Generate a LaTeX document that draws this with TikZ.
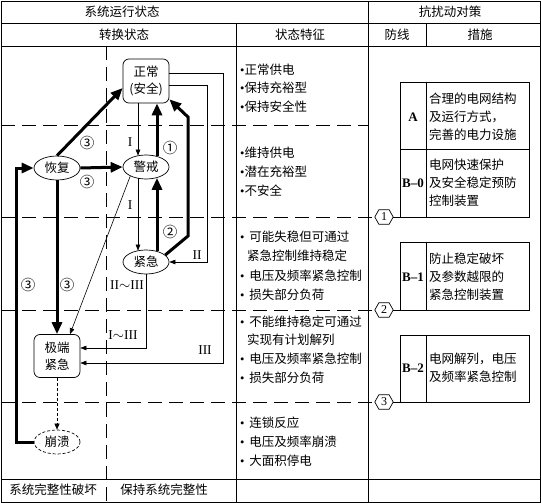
\documentclass[tikz,border=0pt]{standalone}
\usepackage{fontspec}
\setmainfont{Noto Sans CJK SC}
\newfontfamily\ser{Liberation Serif}
\usetikzlibrary{shapes.geometric,arrows.meta,calc}
\newcommand\mybul{{\ser •}}
\begin{document}
\begin{tikzpicture}[x=1pt,y=-1pt,
  font=\fontsize{12.5}{15}\selectfont,
  tl/.style={line width=0.7pt},
  dl/.style={line width=0.7pt, dash pattern=on 14pt off 7pt},
  thinarr/.style={line width=0.6pt, -{Triangle[length=6pt,width=4.5pt]}},
  thickarr/.style={line width=3pt, -{Triangle[length=12pt,width=10pt]}},
  ell/.style={ellipse, draw, line width=0.7pt, minimum width=46pt, minimum height=24pt, inner sep=0pt},
  rbox/.style={draw, line width=0.7pt, rounded corners=6pt, minimum width=46pt, minimum height=44pt, align=center, inner sep=0pt, font=\fontsize{12.5}{17}\selectfont},
  hexn/.style={minimum width=18pt, minimum height=14pt, inner sep=0pt, font=\ser\fontsize{12}{12}\selectfont},
  lab/.style={inner sep=0pt},
  cn/.style={inner sep=0pt, font=\fontsize{14.5}{15}\selectfont},
  rn/.style={inner sep=0pt, font=\ser\fontsize{13.5}{14}\selectfont},
  ft/.style={anchor=west, inner sep=0pt},
  bt/.style={anchor=west, align=left, inner sep=0pt, font=\fontsize{12.5}{18}\selectfont},
  bl/.style={inner sep=0pt, font=\ser\bfseries\fontsize{13}{14}\selectfont}
]
\useasboundingbox (0,0) rectangle (541,503);
% table frame
\draw[tl] (1,1) rectangle (540,502);
\draw[tl] (1,23) -- (540,23);
\draw[tl] (1,46) -- (540,46);
\draw[tl] (1,479) -- (540,479);
\draw[tl] (236,23) -- (236,502);
\draw[tl] (368,1) -- (368,502);
\draw[tl] (426,23) -- (426,46);
\draw[dl] (106,46) -- (106,502);
% headers
\node[lab] (t1) at (122,12) {系统运行状态};
\node[lab] (t2) at (450,12) {抗扰动对策};
\node[lab] (t3) at (124,35) {转换状态};
\node[lab] (t4) at (300,35) {状态特征};
\node[lab] (t5) at (397,35) {防线};
\node[lab] (t6) at (480,35) {措施};
% hexagons
\node[hexn] (h1) at (384,217) {1};
\node[hexn] (h2) at (384,310) {2};
\node[hexn] (h3) at (384,402) {3};
\foreach \h in {h1,h2,h3}{
  \draw[tl] (\h.west) -- ([xshift=4pt]\h.north west) -- ([xshift=-4pt]\h.north east) -- (\h.east) -- ([xshift=-4pt]\h.south east) -- ([xshift=4pt]\h.south west) -- cycle;
}
\draw[dl] (1,125) -- (368,125);
\draw[dl] (1,217) -- (h1.west);
\draw[dl] (1,310) -- (h2.west);
\draw[dl] (1,402) -- (h3.west);
% right boxes
\coordinate (b0) at (400,217);
\coordinate (b1) at (400,310);
\coordinate (b2) at (400,402);
\draw[tl] (h1.east) -- (b0);
\draw[tl] (h2.east) -- (b1);
\draw[tl] (h3.east) -- (b2);
\draw[tl] (400,82) rectangle (529,217);
\draw[tl] (400,149) -- (529,149);
\draw[tl] (426,82) -- (426,217);
\draw[tl] (400,242) rectangle (529,310);
\draw[tl] (426,242) -- (426,310);
\draw[tl] (400,335) rectangle (529,402);
\draw[tl] (426,335) -- (426,402);
\node[bl] (la) at (413,117) {A};
\node[bl] (lb0) at (413,183) {B–0};
\node[bl] (lb1) at (413,277) {B–1};
\node[bl] (lb2) at (413,368) {B–2};
\node[bt] (ta) at (429,117) {合理的电网结构\\及运行方式，\\完善的电力设施};
\node[bt] (tb0) at (429,183) {电网快速保护\\及安全稳定预防\\控制装置};
\node[bt] (tb1) at (429,277) {防止稳定破坏\\及参数越限的\\紧急控制装置};
\node[bt] (tb2) at (429,368) {电网解列，电压\\及频率紧急控制};
% state features
\node[ft] (f11) at (240,70) {\mybul 正常供电};
\node[ft] (f12) at (240,88) {\mybul 保持充裕型};
\node[ft] (f13) at (240,107) {\mybul 保持安全性};
\node[ft] (f21) at (240,153) {\mybul 维持供电};
\node[ft] (f22) at (240,172) {\mybul 潜在充裕型};
\node[ft] (f23) at (240,191) {\mybul 不安全};
\node[ft] (f31) at (240,237) {\mybul\, 可能失稳但可通过};
\node[ft] (f32) at (247,256) {紧急控制维持稳定};
\node[ft] (f33) at (240,276) {\mybul\, 电压及频率紧急控制};
\node[ft] (f34) at (240,295) {\mybul\, 损失部分负荷};
\node[ft] (f41) at (240,322) {\mybul\, 不能维持稳定可通过};
\node[ft] (f42) at (247,340) {实现有计划解列};
\node[ft] (f43) at (240,359) {\mybul\, 电压及频率紧急控制};
\node[ft] (f44) at (240,378) {\mybul\, 损失部分负荷};
\node[ft] (f51) at (240,423) {\mybul\, 连锁反应};
\node[ft] (f52) at (240,442) {\mybul\, 电压及频率崩溃};
\node[ft] (f53) at (240,461) {\mybul\, 大面积停电};
% bottom row
\node[lab] (bl1) at (53,490) {系统完整性破坏};
\node[lab] (bl2) at (164,490) {保持系统完整性};
% state nodes
\node[rbox] (zc) at (146,81) {正常\\(安全)};
\node[ell] (hf) at (57,168) {恢复};
\node[ell] (jj) at (146,167) {警戒};
\node[ell] (jq) at (146,262) {紧急};
\node[rbox, minimum height=43pt] (jd) at (57,356) {极端\\紧急};
\node[ell, dash pattern=on 3pt off 2pt] (bk) at (57,442) {崩溃};
% helper coordinates
\coordinate (xa) at (138,0);
\coordinate (xb) at (157,0);
\coordinate (xl) at (16,0);
\coordinate (xII) at (207,0);
\coordinate (xIII) at (223,0);
\coordinate (yIII) at (0,363);
\coordinate (yII) at (0,348);
\coordinate (k1) at (188,236);
\coordinate (k2) at (188,117);
% thick arrows
\draw[thickarr] (hf.north) -- ([yshift=-7pt]zc.west);
\draw[thickarr] (hf.east) -- (jj.west);
\draw[thickarr] (hf.south) -- (jd.north);
\draw[thickarr] (bk.west) -- (xl |- bk.west) -- (xl |- hf.west) -- (hf.west);
\draw[thickarr] ($(xb |- jj.north)+(0,1.5)$) -- (xb |- zc.south);
\draw[thickarr] ($(xb |- jq.north)+(0,1.5)$) -- ($(xb |- jj.south)+(0,-1.5)$);
\draw[thickarr] (jq.20) -- (k1) -- (k2) -- ([yshift=4pt]zc.south east);
% thin arrows
\draw[thinarr] (xa |- zc.south) -- ($(xa |- jj.north)+(0,1)$);
\draw[thinarr] ($(xa |- jj.south)+(0,-1)$) -- ($(xa |- jq.north)+(0,1)$);
\draw[thinarr] ([yshift=-4pt]zc.east) -| (xII |- jq.east) -- (jq.east);
\draw[thinarr] ([yshift=8pt]zc.east) -| (xIII |- yIII) -- (jd.east |- yIII);
\draw[thinarr] (jq.south) |- (jd.east |- yII);
\draw[thinarr] (jj.210) -- ([xshift=13pt]jd.north);
\draw[line width=0.6pt, dash pattern=on 3pt off 2pt, -{Triangle[length=6pt,width=5pt]}] (jd.south) -- (bk.north);
% labels
\node[cn] (c1) at (87,143) {③};
\node[cn] (c2) at (87,182) {③};
\node[cn] (c3) at (67,285) {③};
\node[cn] (c4) at (28,285) {③};
\node[cn] (c5) at (170,148) {①};
\node[cn] (c6) at (170,232) {②};
\node[rn] (r1) at (130,142) {I};
\node[rn] (r2) at (130,205) {I};
\node[rn] (r3) at (197,255) {II};
\node[rn] (r4) at (205,350) {III};
\node[rn] (r5) at (127,285) {II$\sim$III};
\node[rn] (r6) at (123,335) {I$\sim$III};
\end{tikzpicture}
\end{document}
